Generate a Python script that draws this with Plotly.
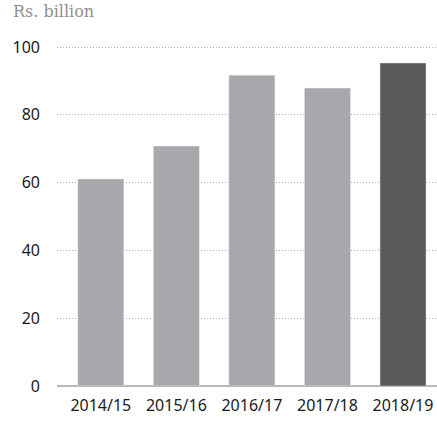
import plotly.graph_objects as go

categories = ["2014/15", "2015/16", "2016/17", "2017/18", "2018/19"]
values = [61.1, 70.8, 91.7, 87.9, 95.3]
colors = ["#a7a8ab", "#a7a8ab", "#a7a8ab", "#a7a8ab", "#58595b"]
y_ticks = [0, 20, 40, 60, 80, 100]

fig = go.Figure(go.Bar(x=categories, y=values, marker_color=colors, width=0.61,
                       hoverinfo="skip"))

fig.update_layout(
    width=437, height=421,
    margin=dict(l=57, r=0, t=46, b=35),
    paper_bgcolor="white", plot_bgcolor="white",
    showlegend=False,
    font=dict(family="Noto Sans", size=16, color="#1a1a1a"),
    xaxis=dict(range=[-0.58, 4.45], showgrid=False, showline=False, ticks="",
               ticklabelstandoff=8, tickfont=dict(size=16, color="#1a1a1a")),
    yaxis=dict(range=[0, 100.3], tickvals=y_ticks, showgrid=True, gridcolor="#b0b0b0",
               griddash="1px,2px", gridwidth=1, zeroline=True, zerolinecolor="#b8b8bc",
               zerolinewidth=1.5, showline=False, ticks="", ticklabelstandoff=16,
               tickfont=dict(size=16, color="#1a1a1a")),
    annotations=[dict(text="Rs. billion", xref="paper", yref="paper", x=0, y=1,
                      xanchor="left", yanchor="middle", yshift=35, showarrow=False,
                      xshift=-46, font=dict(family="DejaVu Serif", size=16, color="#8f8f8f"))],
)
fig.write_html("out.html", config={"displayModeBar": False},
               post_script="document.body.style.margin='0';")
